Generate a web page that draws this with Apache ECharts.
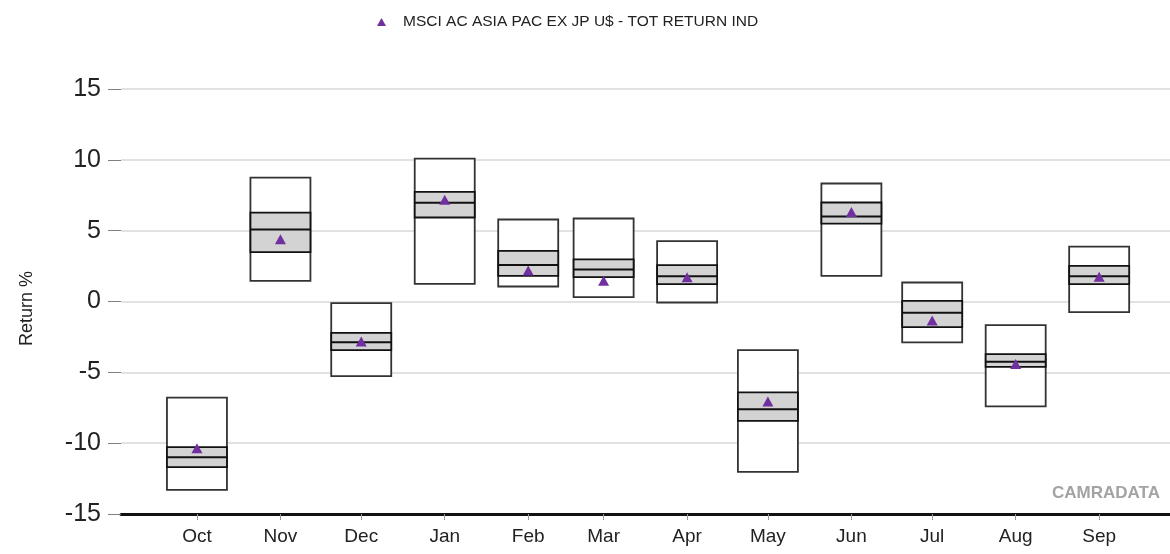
<!DOCTYPE html>
<html>
<head>
<meta charset="utf-8">
<title>Monthly return ranges</title>
<script src="https://cdn.jsdelivr.net/npm/echarts@6/dist/echarts.min.js"></script>
<style>
  html, body { margin: 0; padding: 0; background: #fff; }
  #chart { width: 1170px; height: 554px; }
</style>
</head>
<body>
<div id="chart"></div>
<script>
// Month labels, October through September
const months = ['Oct', 'Nov', 'Dec', 'Jan', 'Feb', 'Mar', 'Apr', 'May', 'Jun', 'Jul', 'Aug', 'Sep'];
// First day of each month (year, month index)
const monthStarts = [[2022, 9], [2022, 10], [2022, 11], [2023, 0], [2023, 1], [2023, 2],
                     [2023, 3], [2023, 4], [2023, 5], [2023, 6], [2023, 7], [2023, 8]];

// Return distribution per month (%)
const rangeHigh   = [-6.78, 8.75, -0.12, 10.09, 5.79, 5.86, 4.26, -3.43, 8.33, 1.34, -1.67, 3.88];
const upperQuart  = [-10.28, 6.28, -2.21, 7.74, 3.58, 2.97, 2.57, -6.42, 6.99, 0.05, -3.71, 2.52];
const medianRet   = [-11.0, 5.08, -2.87, 6.97, 2.57, 2.26, 1.79, -7.6, 6.0, -0.8, -4.26, 1.79];
const lowerQuart  = [-11.69, 3.49, -3.43, 5.93, 1.81, 1.72, 1.23, -8.42, 5.5, -1.81, -4.61, 1.23];
const rangeLow    = [-13.29, 1.46, -5.27, 1.25, 1.06, 0.31, -0.07, -12.02, 1.81, -2.89, -7.41, -0.75];
// Index return per month (%)
const indexReturn = [-10.35, 4.40, -2.82, 7.18, 2.19, 1.46, 1.72, -7.06, 6.31, -1.34, -4.42, 1.74];

const yTicks = [-15, -10, -5, 0, 5, 10, 15];
const indexName = 'MSCI AC ASIA PAC EX JP U$ - TOT RETURN IND';

// Day offsets of each month start, counted from 1 October
const DAY = 86400000;
const origin = Date.UTC(monthStarts[0][0], monthStarts[0][1], 1);
const monthDay = monthStarts.map(([y, m]) => Math.round((Date.UTC(y, m, 1) - origin) / DAY));

const boxData = months.map((m, i) => [monthDay[i], rangeLow[i], lowerQuart[i], medianRet[i], upperQuart[i], rangeHigh[i]]);
const pointData = months.map((m, i) => [monthDay[i], indexReturn[i]]);

const chart = echarts.init(document.getElementById('chart'), null, { renderer: 'canvas' });

const font = 'Liberation Sans, Arial, sans-serif';

function renderBox(params, api) {
  const x = api.value(0);
  const pLow = api.coord([x, api.value(1)]);
  const pQ1 = api.coord([x, api.value(2)]);
  const pMed = api.coord([x, api.value(3)]);
  const pQ3 = api.coord([x, api.value(4)]);
  const pHigh = api.coord([x, api.value(5)]);
  const w = 60;
  const x0 = pLow[0] - w / 2;
  return {
    type: 'group',
    children: [
      {
        type: 'rect',
        shape: { x: x0, y: pHigh[1], width: w, height: pLow[1] - pHigh[1] },
        style: { fill: '#ffffff', stroke: '#333333', lineWidth: 1.8 }
      },
      {
        type: 'rect',
        shape: { x: x0, y: pQ3[1], width: w, height: pQ1[1] - pQ3[1] },
        style: { fill: '#d3d3d3', stroke: '#111111', lineWidth: 1.8 }
      },
      {
        type: 'line',
        shape: { x1: x0, y1: pMed[1], x2: x0 + w, y2: pMed[1] },
        style: { stroke: '#111111', lineWidth: 2 }
      }
    ]
  };
}

const option = {
  animation: false,
  backgroundColor: '#ffffff',
  textStyle: { fontFamily: font },
  legend: {
    data: [indexName],
    top: 9,
    left: 372,
    itemWidth: 9,
    itemHeight: 8,
    textStyle: { fontSize: 15.5, color: '#222222', fontFamily: font, padding: [0, 0, 0, 12] }
  },
  grid: { left: 121, right: 0, top: 89, bottom: 40 },
  xAxis: {
    type: 'value',
    min: -28.2,
    max: 361.3,
    axisLine: { show: true, onZero: false, lineStyle: { color: '#111111', width: 3 } },
    axisTick: { show: true, length: 6, customValues: monthDay, lineStyle: { color: '#999999', width: 1 } },
    axisLabel: {
      customValues: monthDay,
      margin: 13,
      fontSize: 19,
      color: '#222222',
      fontFamily: font,
      formatter: (v) => months[monthDay.indexOf(Math.round(v))]
    },
    splitLine: { show: false }
  },
  yAxis: {
    type: 'value',
    min: yTicks[0],
    max: yTicks[yTicks.length - 1],
    interval: 5,
    name: 'Return %',
    nameLocation: 'middle',
    nameGap: 85,
    nameRotate: 90,
    nameTextStyle: { fontSize: 18, color: '#222222', fontFamily: font, padding: [0, 14, 0, 0] },
    axisLine: { show: false, onZero: false },
    axisTick: { show: true, length: 13, lineStyle: { color: '#808080', width: 1 } },
    axisLabel: { margin: 20, fontSize: 25, color: '#222222', fontFamily: font },
    splitLine: { show: true, lineStyle: { color: '#e2e2e2', width: 2 } }
  },
  graphic: [
    {
      type: 'text',
      right: 10,
      top: 485,
      style: { text: 'CAMRADATA', fill: '#a3a3a3', font: 'bold 17px ' + font }
    }
  ],
  series: [
    {
      name: 'Range',
      type: 'custom',
      renderItem: renderBox,
      encode: { x: 0, y: [1, 2, 3, 4, 5] },
      data: boxData,
      z: 2
    },
    {
      name: indexName,
      type: 'scatter',
      symbol: 'triangle',
      symbolSize: [11, 10],
      itemStyle: { color: '#7030a0', opacity: 1 },
      data: pointData,
      z: 5
    }
  ]
};

chart.setOption(option);
</script>
</body>
</html>
